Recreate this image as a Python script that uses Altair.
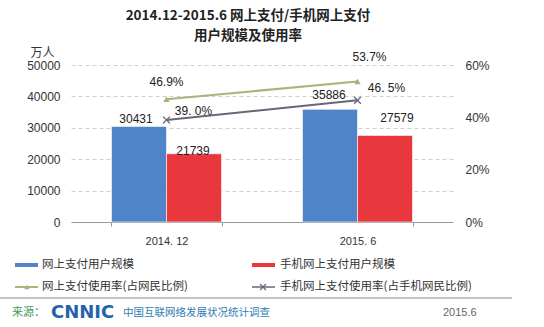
import altair as alt
import pandas as pd

categories = ["2014. 12", "2015. 6"]
series_bar = ["网上支付用户规模", "手机网上支付用户规模"]
online_users = [30431, 35886]
mobile_users = [21739, 27579]
series_line = ["网上支付使用率(占网民比例)", "手机网上支付使用率(占手机网民比例)"]
online_rate = [0.469, 0.537]
mobile_rate = [0.390, 0.465]
online_rate_labels = ["46.9%", "53.7%"]
mobile_rate_labels = ["39. 0%", "46. 5%"]
left_ticks = [0, 10000, 20000, 30000, 40000, 50000]
right_ticks = [0, 0.2, 0.4, 0.6]

BLUE = "#4F84C9"
RED = "#E8383D"
GREEN = "#A8B47C"
GRAY = "#6C6577"
CJK = "Noto Sans CJK SC"
LAT = "Liberation Sans"

PX, PY = 71, 65
W, H = 382, 157


def ax(x):
    return x - PX


def ay(y):
    return y - PY


bars = pd.DataFrame({
    "cat": categories * 2,
    "series": [series_bar[0]] * 2 + [series_bar[1]] * 2,
    "value": online_users + mobile_users,
})
bars["label"] = bars["value"].astype(str)

lines = pd.DataFrame({
    "cat": categories * 2,
    "series": [series_line[0]] * 2 + [series_line[1]] * 2,
    "rate": online_rate + mobile_rate,
    "label": online_rate_labels + mobile_rate_labels,
})

xscale = alt.Scale(domain=categories, paddingInner=0.424, paddingOuter=0.212)
xaxis = alt.Axis(title=None, labelFont=LAT, labelFontSize=11, labelColor="#333",
                 labelPadding=9, domainColor="#999", tickColor="#999", tickSize=4,
                 tickBand="extent", grid=False, labelAngle=0)
xenc = alt.X("cat:N", scale=xscale, axis=xaxis, sort=categories)

yleft = alt.Y("value:Q", scale=alt.Scale(domain=[0, 50000], nice=False, zero=True),
              axis=alt.Axis(title="万人", titleAngle=0, titleFont=CJK, titleFontSize=12,
                            titleFontWeight="normal", titleColor="#333",
                            titleX=-29, titleY=-6, titleAlign="center",
                            values=left_ticks, tickCount=6, format="d", labelOverlap=False,
                            labelFlush=False,
                            labelFont=LAT, labelFontSize=12, labelColor="#333",
                            labelPadding=11, domain=False, ticks=False,
                            grid=True, gridDash=[4, 3], gridColor="#d0d0d0"))

xoff = alt.XOffset("series:N", sort=series_bar, scale=alt.Scale(paddingInner=0, paddingOuter=0))

bar_layer = alt.Chart(bars).mark_bar(stroke="white", strokeWidth=0.6).encode(
    x=xenc,
    xOffset=xoff,
    y=yleft,
    color=alt.Color("series:N", scale=alt.Scale(domain=series_bar, range=[BLUE, RED]), legend=None),
)

bar_label_offsets = {
    (series_bar[0], categories[0]): (-3, -7),
    (series_bar[0], categories[1]): (-1, -14),
    (series_bar[1], categories[0]): (-1, -3),
    (series_bar[1], categories[1]): (12, -17),
}

bar_labels = []
for (s, c), (dx, dy) in bar_label_offsets.items():
    bar_labels.append(
        alt.Chart(bars).transform_filter(
            (alt.datum.series == s) & (alt.datum.cat == c)
        ).mark_text(font=LAT, fontSize=12, color="#222", dx=dx, dy=dy, baseline="middle").encode(
            x=xenc,
            xOffset=xoff,
            y=yleft,
            text="label:N",
        )
    )

yright = alt.Y("rate:Q", scale=alt.Scale(domain=[0, 0.6], nice=False),
               axis=alt.Axis(title=None, orient="right", format=".0%",
                             values=right_ticks, labelOverlap=False, labelFlush=False,
                             labelFont=LAT, labelFontSize=12,
                             labelColor="#333", labelPadding=12, domain=False,
                             ticks=False, grid=False))

line_color = alt.Color("series:N", scale=alt.Scale(domain=series_line, range=[GREEN, GRAY]), legend=None)

line_layer = alt.Chart(lines).mark_line(strokeWidth=2).encode(
    x=xenc, y=yright, color=line_color, detail="series:N")

tri_layer = alt.Chart(lines).transform_filter(alt.datum.series == series_line[0]).mark_point(
    shape="triangle-up", filled=True, size=40, color=GREEN, opacity=1).encode(x=xenc, y=yright)

x_layer = alt.Chart(lines).transform_filter(alt.datum.series == series_line[1]).mark_point(
    shape="M-1,-1L1,1M-1,1L1,-1", filled=False, size=45, color=GRAY, strokeWidth=1.3,
    opacity=1).encode(x=xenc, y=yright)

rate_label_offsets = {
    (series_line[0], categories[0]): (0, -17),
    (series_line[0], categories[1]): (12, -24),
    (series_line[1], categories[0]): (27, -9),
    (series_line[1], categories[1]): (29, -12),
}
rate_labels = []
for (s, c), (dx, dy) in rate_label_offsets.items():
    rate_labels.append(
        alt.Chart(lines).transform_filter(
            (alt.datum.series == s) & (alt.datum.cat == c)
        ).mark_text(font=LAT, fontSize=12, color="#222", dx=dx, dy=dy, baseline="middle").encode(
            x=xenc, y=yright, text="label:N")
    )

# Decorations (title, legend, footer)
one = alt.Data(values=[{}])


def text_at(txt, x, y, size=12, color="#222", font=CJK, weight="normal", align="left", style=None):
    kw = {}
    if style:
        kw["fontStyle"] = style
    return alt.Chart(one).mark_text(text=txt, font=font, fontSize=size, color=color,
                                    fontWeight=weight, align=align, baseline="middle", **kw).encode(
        x=alt.value(ax(x)), y=alt.value(ay(y)))


def hline(x1, x2, y, color, width, dash=None):
    kw = {}
    if dash:
        kw["strokeDash"] = dash
    return alt.Chart(one).mark_rule(color=color, strokeWidth=width, **kw).encode(
        x=alt.value(ax(x1)), x2=alt.value(ax(x2)), y=alt.value(ay(y)))


def marker(x, y, shape, color, size, filled):
    return alt.Chart(one).mark_point(shape=shape, color=color, size=size, filled=filled,
                                     opacity=1, strokeWidth=1.3).encode(
        x=alt.value(ax(x)), y=alt.value(ay(y)))


decor = [
    text_at("2014.12-2015.6 网上支付/手机网上支付", 248, 16, size=13.5, weight="bold", align="center", color="#222"),
    text_at("用户规模及使用率", 248, 36, size=13.5, weight="bold", align="center", color="#222"),
    # legend
    hline(15, 38, 265, BLUE, 4),
    text_at(series_bar[0], 42, 265, size=11.5, color="#333"),
    hline(252, 275, 265, RED, 4),
    text_at(series_bar[1], 280, 265, size=11.5, color="#333"),
    hline(15, 38, 287, GREEN, 2),
    marker(27, 287, "triangle-up", GREEN, 30, True),
    text_at("网上支付使用率(占网民比例)", 42, 287, size=11.5, color="#333"),
    hline(252, 275, 287, GRAY, 1.5),
    marker(263, 287, "M-1,-1L1,1M-1,1L1,-1", GRAY, 35, False),
    text_at("手机网上支付使用率(占手机网民比例)", 280, 287, size=11.5, color="#333"),
    # footer
    hline(0, 512, 298, "#888", 1),
    text_at("来源：", 12, 313, size=11, color="#3E9A57"),
    text_at("CNNIC", 51, 313, size=18, color="#1F63AE", font="DejaVu Sans", weight="bold"),
    text_at("中国互联网络发展状况统计调查", 123, 313, size=10.5, color="#2F7DB5"),
    text_at("2015.6", 443, 313, size=11, color="#666", font=LAT),
]

left = alt.layer(bar_layer, *bar_labels, *decor)
right = alt.layer(line_layer, tri_layer, x_layer, *rate_labels)

chart = alt.layer(left, right).resolve_scale(y="independent", color="independent").properties(
    width=W, height=H,
    padding={"left": PX, "top": PY, "right": 544 - PX - W, "bottom": 327 - PY - H},
    autosize=alt.AutoSizeParams(type="none"),
    background="white",
).configure_view(stroke=None)

chart.save("out.html", embed_options={"renderer": "svg", "actions": False})
